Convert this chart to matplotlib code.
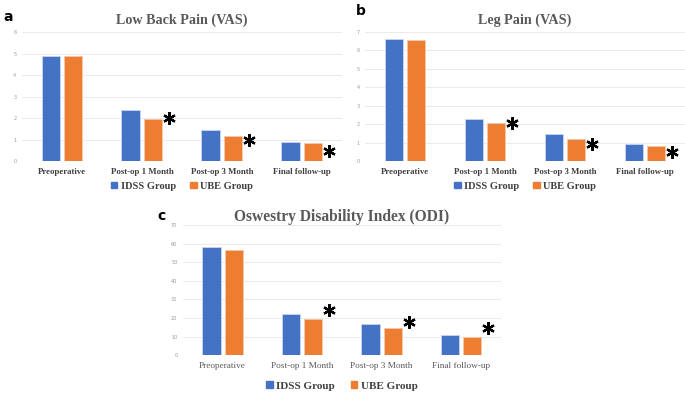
import numpy as np
import matplotlib
matplotlib.use("Agg")
import matplotlib.pyplot as plt

categories = ['Preoperative', 'Post-op 1 Month', 'Post-op 3 Month', 'Final follow-up']
groups = ['IDSS Group', 'UBE Group']

lbp_idss = [4.90, 2.37, 1.45, 0.90]
lbp_ube = [4.87, 1.95, 1.18, 0.83]
lbp_star = [None, 2.02, 1.00, 0.47]

leg_idss = [6.62, 2.31, 1.45, 0.95]
leg_ube = [6.57, 2.05, 1.20, 0.80]
leg_star = [None, 2.09, 0.95, 0.49]

odi_idss = [58.0, 22.0, 16.6, 10.6]
odi_ube = [56.6, 19.5, 14.5, 9.7]
odi_star = [None, 24.3, 17.7, 14.5]

blue = '#4472C4'
orange = '#ED7D31'
serif = 'Liberation Serif'

fig = plt.figure(figsize=(6.85, 3.95), dpi=100)


def panel(rect, idss, ube, stars, ymax, ystep, title, tsize, tpad, bold_cats, catsize, legsize, leg_y):
    ax = fig.add_axes(rect)
    x = np.arange(len(categories))
    w = 0.23
    ax.bar(x - 0.14, idss, w, color=blue, edgecolor='#c9d6ee', linewidth=0.6, zorder=3)
    ax.bar(x + 0.14, ube, w, color=orange, edgecolor='#f6c8a8', linewidth=0.6, zorder=3)
    # significance marks
    for xi, s in zip(x, stars):
        if s is not None:
            ax.plot(xi + 0.34, s, marker=(6, 2, 0), markersize=9, markeredgewidth=1.6,
                    color='black', zorder=4, clip_on=False)
    ax.set_xlim(-0.5, len(categories) - 0.5)
    ax.set_ylim(0, ymax)
    ax.set_yticks(np.arange(0, ymax + 0.01, ystep))
    ax.yaxis.grid(True, color='#e6e6e6', linewidth=0.6, zorder=0)
    for sp in ax.spines.values():
        sp.set_visible(False)
    ax.axhline(0, color='#d9d9d9', linewidth=0.7, zorder=2)
    ax.tick_params(axis='y', length=0, labelsize=3.5, labelcolor='#9a9a9a', pad=4)
    ax.tick_params(axis='x', length=0, pad=5)
    ax.set_xticks(x)
    ax.set_xticklabels(categories, family=serif, fontsize=catsize,
                       fontweight='bold' if bold_cats else 'normal',
                       color='#404040' if bold_cats else '#595959')
    ax.set_title(title, family=serif, fontsize=tsize, fontweight='bold', color='#595959', pad=tpad)
    h1 = plt.Rectangle((0, 0), 1, 1, color=blue)
    h2 = plt.Rectangle((0, 0), 1, 1, color=orange)
    ax.legend([h1, h2], groups, loc='upper center', bbox_to_anchor=(0.5, leg_y),
              ncol=2, frameon=False, handlelength=0.6, handleheight=0.6, handletextpad=0.3,
              columnspacing=1.4, prop={'family': serif, 'weight': 'bold', 'size': legsize},
              labelcolor='#404040')
    return ax


panel([0.032, 0.592, 0.467, 0.327], lbp_idss, lbp_ube, lbp_star, 6, 1,
      'Low Back Pain (VAS)', 10.2, 6, True, 6.3, 7.5, -0.085)
panel([0.533, 0.592, 0.467, 0.327], leg_idss, leg_ube, leg_star, 7, 1,
      'Leg Pain (VAS)', 10.2, 6, True, 6.3, 7.5, -0.085)
panel([0.267, 0.101, 0.464, 0.329], odi_idss, odi_ube, odi_star, 70, 10,
      'Oswestry Disability Index (ODI)', 11.2, 3, False, 6.7, 8, -0.125)

fig.text(0.005, 0.975, 'a', fontsize=10, fontweight='bold', family='DejaVu Sans', va='top')
fig.text(0.519, 0.99, 'b', fontsize=10, fontweight='bold', family='DejaVu Sans', va='top')
fig.text(0.23, 0.47, 'c', fontsize=10, fontweight='bold', family='DejaVu Sans', va='top')

fig.savefig('out.png', dpi=100)
